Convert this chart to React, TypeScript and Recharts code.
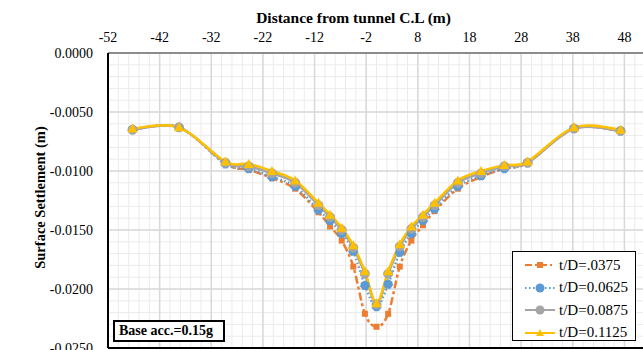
import { LineChart, Line, XAxis, YAxis, ReferenceLine } from "recharts";

// distance from tunnel centre line (m)
const distances = [
  -47.25, -38.25, -29.25, -24.75, -20.25, -15.75, -11.25, -9, -6.75, -4.5, -2.25, 0,
  2.25, 4.5, 6.75, 9, 11.25, 15.75, 20.25, 24.75, 29.25, 38.25, 47.25,
];

// surface settlement (m) for each t/D
const td0375 = [
  -0.0065, -0.0063, -0.0094, -0.0099, -0.0106, -0.0115, -0.0135, -0.0147, -0.0159, -0.0181, -0.0221, -0.0232,
  -0.0221, -0.0181, -0.0159, -0.0146, -0.0134, -0.0115, -0.0105, -0.0098, -0.0093, -0.0064, -0.0066,
];
const td0625 = [
  -0.0065, -0.0063, -0.0094, -0.0098, -0.0105, -0.0113, -0.0133, -0.0142, -0.0153, -0.0168, -0.0197, -0.0215,
  -0.0196, -0.0169, -0.0153, -0.0142, -0.0132, -0.0113, -0.0104, -0.0098, -0.0093, -0.0064, -0.0066,
];
const td0875 = [
  -0.0065, -0.0063, -0.0093, -0.0096, -0.0102, -0.011, -0.0129, -0.0139, -0.015, -0.0165, -0.0187, -0.0213,
  -0.0187, -0.0164, -0.0149, -0.0139, -0.0129, -0.011, -0.0102, -0.0096, -0.0093, -0.0064, -0.0066,
];
const td1125 = [
  -0.0064, -0.0063, -0.0092, -0.0094, -0.01, -0.0108, -0.0127, -0.0137, -0.0148, -0.0163, -0.0185, -0.0212,
  -0.0185, -0.0162, -0.0147, -0.0137, -0.0127, -0.0108, -0.01, -0.0095, -0.0092, -0.0063, -0.0065,
];

const xTicks = [-52, -42, -32, -22, -12, -2, 8, 18, 28, 38, 48];
const yTicks = [-0.025, -0.02, -0.015, -0.01, -0.005, 0];

// minor grid every 2 m / 0.001 m
const xMinor = Array.from({ length: 52 }, (_, i) => -52 + i * 2);
const yMinor = Array.from({ length: 26 }, (_, i) => -0.025 + i * 0.001);

const rows = distances.map((d, i) => ({
  d,
  a: td0375[i],
  b: td0625[i],
  c: td0875[i],
  e: td1125[i],
}));

const font = "'Liberation Serif', 'Times New Roman', serif";

const ORANGE = "#ED7D31";
const BLUE = "#5B9BD5";
const GRAY = "#A5A5A5";
const YELLOW = "#FFC000";

// Excel-like smoothed line (Catmull-Rom as cubic bezier)
function smoothCurve(context: any) {
  let pts: number[][] = [];
  return {
    areaStart() {},
    areaEnd() {},
    lineStart() {
      pts = [];
    },
    point(x: number, y: number) {
      pts.push([+x, +y]);
    },
    lineEnd() {
      if (!pts.length) return;
      context.moveTo(pts[0][0], pts[0][1]);
      for (let i = 0; i < pts.length - 1; i++) {
        const p0 = pts[i - 1] || pts[i];
        const p1 = pts[i];
        const p2 = pts[i + 1];
        const p3 = pts[i + 2] || p2;
        context.bezierCurveTo(
          p1[0] + (p2[0] - p0[0]) / 6,
          p1[1] + (p2[1] - p0[1]) / 6,
          p2[0] - (p3[0] - p1[0]) / 6,
          p2[1] - (p3[1] - p1[1]) / 6,
          p2[0],
          p2[1]
        );
      }
    },
  };
}

function SquareDot(props: any) {
  const { cx, cy, index } = props;
  if (cx == null || cy == null) return null;
  return <rect key={`sq-${index}`} x={cx - 3} y={cy - 3} width={6} height={6} fill={ORANGE} />;
}

function TriangleDot(props: any) {
  const { cx, cy, index } = props;
  if (cx == null || cy == null) return null;
  return (
    <polygon
      key={`tri-${index}`}
      points={`${cx},${cy - 5} ${cx - 5},${cy + 4} ${cx + 5},${cy + 4}`}
      fill={YELLOW}
    />
  );
}

function YTitle(props: any) {
  const { viewBox } = props;
  const x = viewBox.x + 40;
  const y = viewBox.y + viewBox.height / 2 - 3;
  return (
    <text
      x={x}
      y={y}
      transform={`rotate(-90 ${x} ${y})`}
      textAnchor="middle"
      dominantBaseline="central"
      fill="#000"
      fontSize={14.5}
      fontWeight="bold"
      fontFamily={font}
    >
      Surface Settlement (m)
    </text>
  );
}

const legendItems = [
  { name: "t/D=.0375", color: ORANGE, dash: "7 3 2 3", marker: "square" },
  { name: "t/D=0.0625", color: BLUE, dash: "1.5 2.5", marker: "circle" },
  { name: "t/D=0.0875", color: GRAY, dash: undefined, marker: "circle" },
  { name: "t/D=0.1125", color: YELLOW, dash: undefined, marker: "triangle" },
];

export default function App() {
  return (
    <div
      style={{
        position: "absolute",
        left: 0,
        top: 0,
        width: 643,
        height: 350,
        overflow: "hidden",
        background: "#fff",
        fontFamily: font,
      }}
    >
      <LineChart width={643} height={365} data={rows} margin={{ top: 0, right: 0, bottom: 17, left: 0 }}>
        {xMinor.map((v) => (
          <ReferenceLine key={`xm${v}`} x={v} stroke="#ebebeb" strokeWidth={1} />
        ))}
        {yMinor.map((v) => (
          <ReferenceLine key={`ym${v}`} y={v} stroke="#ebebeb" strokeWidth={1} />
        ))}
        {xTicks.map((v) => (
          <ReferenceLine key={`xM${v}`} x={v} stroke="#d9d9d9" strokeWidth={1.5} />
        ))}
        {yTicks.map((v) => (
          <ReferenceLine key={`yM${v}`} y={v} stroke="#d9d9d9" strokeWidth={1.5} />
        ))}
        <XAxis
          dataKey="d"
          type="number"
          orientation="top"
          domain={[-52, 51.6]}
          ticks={xTicks}
          allowDataOverflow
          height={53}
          tickLine={false}
          tickMargin={5}
          axisLine={{ stroke: "#8c8c8c", strokeWidth: 2 }}
          tick={{ fill: "#000", fontSize: 14, fontFamily: font }}
          label={{
            value: "Distance from tunnel C.L (m)",
            position: "insideTop",
            offset: 12,
            dx: -22,
            style: { fill: "#000", fontSize: 15.5, fontWeight: "bold", fontFamily: font },
          }}
        />
        <YAxis
          type="number"
          domain={[-0.025, 0]}
          ticks={yTicks}
          allowDataOverflow
          width={108}
          tickLine={false}
          tickMargin={9}
          tickFormatter={(v: number) => v.toFixed(4)}
          axisLine={{ stroke: "#000", strokeWidth: 2 }}
          tick={{ fill: "#000", fontSize: 14, fontFamily: font }}
          label={<YTitle />}
        />
        <Line
          type={smoothCurve as any}
          dataKey="a"
          stroke={ORANGE}
          strokeWidth={2.5}
          strokeDasharray="8 3 3 3"
          dot={SquareDot}
          isAnimationActive={false}
        />
        <Line
          type={smoothCurve as any}
          dataKey="b"
          stroke={BLUE}
          strokeWidth={2.5}
          strokeDasharray="1.5 2.5"
          dot={{ r: 4.5, fill: BLUE, stroke: BLUE, strokeWidth: 1 }}
          isAnimationActive={false}
        />
        <Line
          type={smoothCurve as any}
          dataKey="c"
          stroke={GRAY}
          strokeWidth={2.5}
          dot={{ r: 4.5, fill: GRAY, stroke: GRAY, strokeWidth: 1 }}
          isAnimationActive={false}
        />
        <Line
          type={smoothCurve as any}
          dataKey="e"
          stroke={YELLOW}
          strokeWidth={2.5}
          dot={TriangleDot}
          isAnimationActive={false}
        />
        <ReferenceLine y={-0.025} stroke="#000" strokeWidth={2} />
      </LineChart>

      <div
        style={{
          position: "absolute",
          left: 512,
          top: 251,
          width: 124,
          height: 90,
          border: "1.5px solid #000",
          background: "#fff",
          boxSizing: "border-box",
          paddingTop: 2,
        }}
      >
        {legendItems.map((item) => (
          <div key={item.name} style={{ display: "flex", alignItems: "center", height: 22.5 }}>
            <svg width={42} height={12} style={{ marginLeft: 10 }}>
              <line
                x1={2}
                y1={6}
                x2={32}
                y2={6}
                stroke={item.color}
                strokeWidth={2}
                strokeDasharray={item.dash}
              />
              {item.marker === "square" && <rect x={14} y={3} width={6} height={6} fill={item.color} />}
              {item.marker === "circle" && <circle cx={17} cy={6} r={4.5} fill={item.color} />}
              {item.marker === "triangle" && <polygon points="17,2 13,9 21,9" fill={item.color} />}
            </svg>
            <span style={{ fontSize: 15, color: "#000", marginLeft: -6 }}>{item.name}</span>
          </div>
        ))}
      </div>

      <div
        style={{
          position: "absolute",
          left: 113,
          top: 320,
          width: 112,
          height: 22,
          border: "2px solid #000",
          background: "#fff",
          boxSizing: "border-box",
          fontWeight: "bold",
          fontSize: 14,
          lineHeight: "18px",
          paddingLeft: 4,
          color: "#000",
        }}
      >
        Base acc.=0.15g
      </div>
    </div>
  );
}
